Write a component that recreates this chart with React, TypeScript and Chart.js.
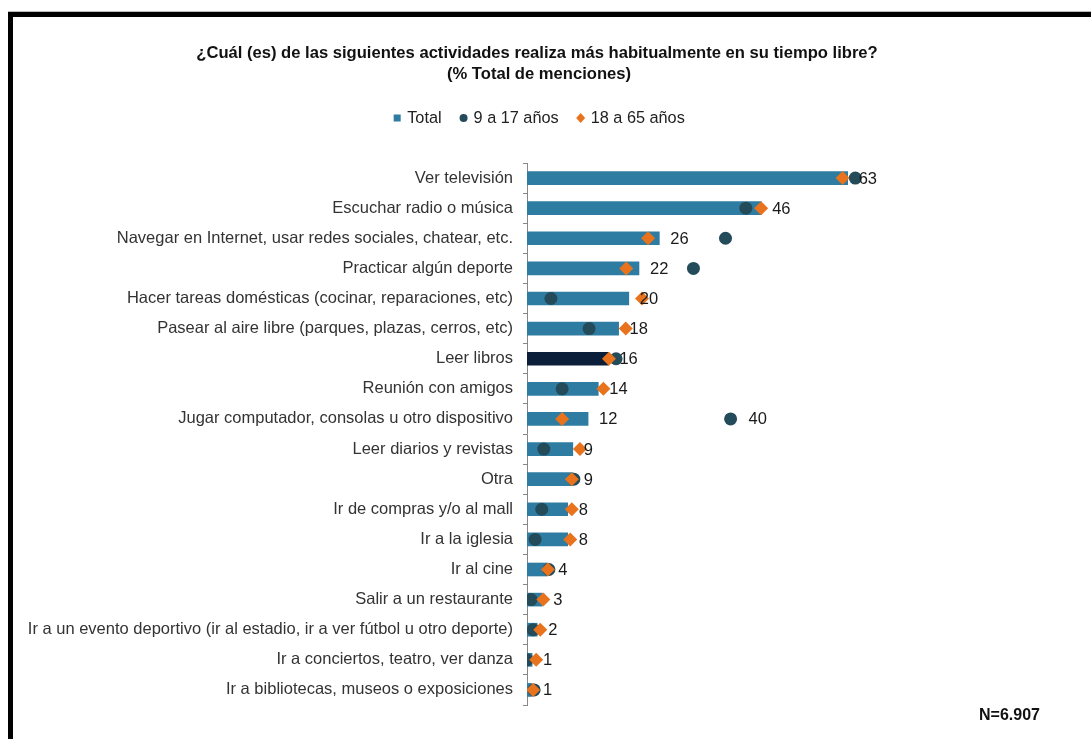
import React, { useEffect, useRef } from "react";
import { Chart, registerables } from "chart.js";

Chart.register(...registerables);

const categories = [
  "Ver televisión",
  "Escuchar radio o música",
  "Navegar en Internet, usar redes sociales, chatear, etc.",
  "Practicar algún deporte",
  "Hacer tareas domésticas (cocinar, reparaciones, etc)",
  "Pasear al aire libre (parques, plazas, cerros, etc)",
  "Leer libros",
  "Reunión con amigos",
  "Jugar computador, consolas u otro dispositivo",
  "Leer diarios y revistas",
  "Otra",
  "Ir de compras y/o al mall",
  "Ir a la iglesia",
  "Ir al cine",
  "Salir a un restaurante",
  "Ir a un evento deportivo (ir al estadio, ir a ver fútbol u otro deporte)",
  "Ir a conciertos, teatro, ver danza",
  "Ir a bibliotecas, museos o exposiciones",
];

const totalValues = [63, 46, 26, 22, 20, 18, 16, 14, 12, 9, 9, 8, 8, 4, 3, 2, 1, 1];
const youthValues = [64.5, 43, 39, 32.7, 4.7, 12.2, 17.5, 6.9, 40, 3.3, 9.2, 2.9, 1.6, 4.3, 0.8, 1.2, 0, 1.4];
const adultValues = [62, 46, 23.8, 19.5, 22.6, 19.4, 16.1, 15, 6.9, 10.4, 8.8, 8.8, 8.5, 4.1, 3.2, 2.6, 1.8, 1.2];
const youthLabelIndices = [8];
const highlightIndex = 6;

const seriesNames = ["Total", "9 a 17 años", "18 a 65 años"];
const titleLines = [
  "¿Cuál (es) de las siguientes actividades realiza más habitualmente en su tiempo libre?",
  "(% Total de menciones)",
];
const footnote = "N=6.907";

const BAR = "#2e7ca2";
const NAVY = "#0b1f3a";
const DOT = "#234b5a";
const ORANGE = "#e8731c";
const FONT = "'Liberation Sans', Arial, sans-serif";

const overlayPlugin = {
  id: "overlay",
  afterDatasetsDraw(chart: any) {
    const ctx = chart.ctx;
    const xs = chart.scales.x;
    const ys = chart.scales.y;
    ctx.save();
    ctx.fillStyle = "#1a1a1a";
    ctx.font = `16.5px ${FONT}`;
    ctx.textBaseline = "middle";
    ctx.textAlign = "left";
    totalValues.forEach((v, i) => {
      const x = xs.getPixelForValue(v) + 11;
      const y = ys.getPixelForValue(i) + 1;
      ctx.fillText(String(v), x, y);
    });
    youthLabelIndices.forEach((i) => {
      const x = xs.getPixelForValue(youthValues[i]) + 18;
      const y = ys.getPixelForValue(i) + 1;
      ctx.fillText(String(Math.round(youthValues[i])), x, y);
    });
    ctx.restore();
  },
  afterDraw(chart: any) {
    const ctx = chart.ctx;
    ctx.save();
    // Title
    ctx.fillStyle = "#111";
    ctx.font = `bold 16.6px ${FONT}`;
    ctx.textAlign = "center";
    ctx.textBaseline = "middle";
    ctx.fillText(titleLines[0], 537, 53);
    ctx.fillText(titleLines[1], 539, 74);

    // Legend
    ctx.font = `16.3px ${FONT}`;
    ctx.textAlign = "left";
    const ly = 118;
    const widths = seriesNames.map((s) => ctx.measureText(s).width);
    const markerW = 8;
    const gapMT = 6;
    const gapItems = 18;
    const totalW =
      widths.reduce((a, b) => a + b, 0) + 3 * (markerW + gapMT) + 2 * gapItems;
    let x = 539 - totalW / 2;
    seriesNames.forEach((s, i) => {
      const cx = x + markerW / 2;
      if (i === 0) {
        ctx.fillStyle = BAR;
        ctx.fillRect(cx - 3.5, ly - 3.5, 7, 7);
      } else if (i === 1) {
        ctx.fillStyle = DOT;
        ctx.beginPath();
        ctx.arc(cx, ly, 4, 0, Math.PI * 2);
        ctx.fill();
      } else {
        ctx.fillStyle = ORANGE;
        ctx.beginPath();
        ctx.moveTo(cx, ly - 5);
        ctx.lineTo(cx + 4.5, ly);
        ctx.lineTo(cx, ly + 5);
        ctx.lineTo(cx - 4.5, ly);
        ctx.closePath();
        ctx.fill();
      }
      ctx.fillStyle = "#222";
      ctx.fillText(s, x + markerW + gapMT, ly + 1);
      x += markerW + gapMT + widths[i] + gapItems;
    });

    // Footnote
    ctx.fillStyle = "#111";
    ctx.font = `bold 16px ${FONT}`;
    ctx.textAlign = "left";
    ctx.fillText(footnote, 979, 716);
    ctx.restore();
  },
};

export default function App() {
  const canvasRef = useRef<HTMLCanvasElement | null>(null);

  useEffect(() => {
    const canvas = canvasRef.current;
    if (!canvas) return;
    const chart = new Chart(canvas, {
      type: "bar",
      data: {
        labels: categories,
        datasets: [
          {
            type: "line",
            label: seriesNames[2],
            data: adultValues,
            showLine: false,
            pointStyle: "rectRot",
            pointRadius: 7,
            pointBackgroundColor: ORANGE,
            pointBorderColor: ORANGE,
            pointBorderWidth: 0,
            backgroundColor: ORANGE,
            borderColor: ORANGE,
            order: 0,
          } as any,
          {
            type: "line",
            label: seriesNames[1],
            data: youthValues,
            showLine: false,
            pointStyle: "circle",
            pointRadius: 6.5,
            pointBackgroundColor: DOT,
            pointBorderColor: DOT,
            pointBorderWidth: 0,
            backgroundColor: DOT,
            borderColor: DOT,
            order: 1,
          } as any,
          {
            type: "bar",
            label: seriesNames[0],
            data: totalValues,
            backgroundColor: totalValues.map((_, i) => (i === highlightIndex ? NAVY : BAR)),
            barThickness: 13,
            order: 2,
          } as any,
        ],
      },
      options: {
        indexAxis: "y",
        responsive: false,
        animation: false,
        events: [],
        layout: { padding: { left: 0, right: 55, top: 163, bottom: 34 } },
        plugins: {
          legend: { display: false },
          title: { display: false },
          tooltip: { enabled: false },
        },
        scales: {
          x: { display: false, min: 0, max: 100 },
          y: {
            type: "category",
            offset: true,
            afterFit(scale: any) {
              scale.width = 527;
            },
            grid: {
              display: true,
              drawOnChartArea: false,
              drawTicks: true,
              tickLength: 4,
              offset: true,
              color: "#888",
            },
            border: { display: true, color: "#888", width: 1 },
            ticks: {
              padding: 10,
              color: "#333",
              font: { family: FONT, size: 16.5 },
              autoSkip: false,
            },
          },
        },
      },
      plugins: [overlayPlugin],
    } as any);
    return () => chart.destroy();
  }, []);

  return (
    <div style={{ position: "fixed", left: 0, top: 0, width: 1091, height: 739, background: "#fff" }}>
      <canvas ref={canvasRef} width={1091} height={739} style={{ position: "absolute", left: 0, top: 0 }} />
      <div style={{ position: "absolute", left: 8, top: 11, width: 1083, height: 1, background: "#bbb" }} />
      <div style={{ position: "absolute", left: 8, top: 12, width: 1083, height: 5, background: "#000" }} />
      <div style={{ position: "absolute", left: 8, top: 12, width: 5, height: 727, background: "#000" }} />
    </div>
  );
}
